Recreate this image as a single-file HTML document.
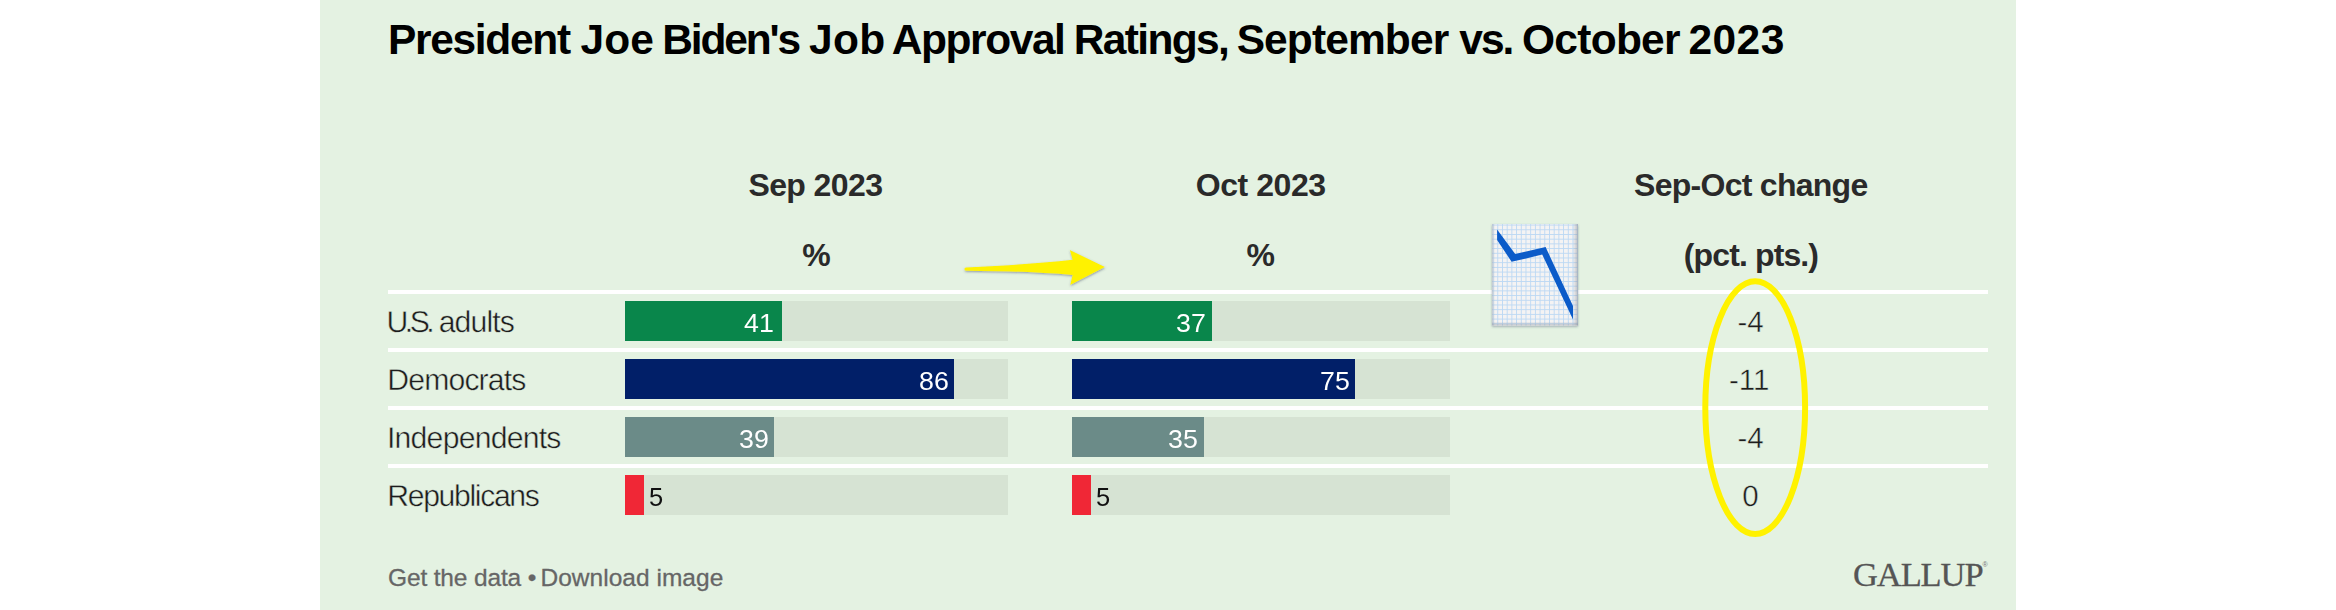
<!DOCTYPE html>
<html lang="en">
<head>
<meta charset="utf-8">
<title>President Joe Biden's Job Approval Ratings, September vs. October 2023</title>
<style>
html,body{margin:0;padding:0;background:#fff;}
body{width:2336px;height:610px;position:relative;overflow:hidden;font-family:"Liberation Sans",Arial,sans-serif;}
.card{position:absolute;left:320px;top:0;width:1696px;height:610px;background:#e4f2e2;}
.abs{position:absolute;white-space:nowrap;line-height:1;}
h1{position:absolute;margin:0;left:0;top:19px;width:2336px;height:43px;font-size:42.5px;line-height:1;font-weight:700;color:#000;white-space:nowrap;}
h1 span{position:absolute;top:0;white-space:nowrap;}
.hd{position:absolute;font-weight:700;font-size:32px;line-height:1;color:#2a2a2a;white-space:nowrap;text-align:center;transform:translateX(-50%);}
.rule{position:absolute;left:388px;width:1600px;height:4px;background:#fff;}
.lab{position:absolute;left:388px;text-rendering:geometricPrecision;font-size:30.2px;line-height:1;color:#1c1c1c;white-space:nowrap;-webkit-text-stroke:0.45px #e4f2e2;}
.track{position:absolute;height:40px;background:#d6e3d3;}
.bar{position:absolute;left:0;top:0;height:40px;}
.val{position:absolute;top:0;height:40px;line-height:44px;font-size:25px;color:#fff;white-space:nowrap;}
.val.in{text-align:right;transform:scaleX(1.07);transform-origin:100% 50%;}
.val.out{color:#111;transform:scaleX(1.02);transform-origin:0 50%;}
.chg{position:absolute;text-rendering:geometricPrecision;font-size:29.5px;line-height:1;color:#1c1c1c;-webkit-text-stroke:0.45px #e4f2e2;white-space:nowrap;transform:translateX(-50%);left:1750.5px;}
.foot{position:absolute;left:388px;top:566px;font-size:24.5px;letter-spacing:-0.15px;-webkit-text-stroke:0.3px #666;line-height:1;color:#666;white-space:nowrap;}
.logo{position:absolute;font-family:"Liberation Serif","Times New Roman",serif;font-size:34.5px;line-height:1;color:#555;white-space:nowrap;letter-spacing:-1.1px;-webkit-text-stroke:0.3px #555;}
.logo sup{font-size:7px;letter-spacing:0;position:relative;top:-18.5px;vertical-align:baseline;font-family:"Liberation Sans",sans-serif;color:#777;-webkit-text-stroke:0;}
svg.ov{position:absolute;left:0;top:0;width:2336px;height:610px;pointer-events:none;}
</style>
</head>
<body>
<div class="card"></div>

<h1><span style="left:387.95px;letter-spacing:-1.32px;">President</span> <span style="left:580.54px;letter-spacing:0.07px;">Joe</span> <span style="left:662.21px;letter-spacing:-2.16px;">Biden's</span> <span style="left:809.01px;letter-spacing:0.30px;">Job</span> <span style="left:891.80px;letter-spacing:-1.44px;">Approval</span> <span style="left:1073.79px;letter-spacing:-1.65px;">Ratings,</span> <span style="left:1236.64px;letter-spacing:-0.88px;">September</span> <span style="left:1459.28px;letter-spacing:-2.02px;">vs.</span> <span style="left:1522.06px;letter-spacing:-0.74px;">October</span> <span style="left:1688.38px;letter-spacing:0.48px;">2023</span></h1>

<div class="hd" style="left:815.4px;top:169.4px;letter-spacing:-0.6px;">Sep 2023</div>
<div class="hd" style="left:816.5px;top:239px;">%</div>
<div class="hd" style="left:1260.7px;top:169.4px;letter-spacing:-0.45px;">Oct 2023</div>
<div class="hd" style="left:1260.8px;top:239px;">%</div>
<div class="hd" style="left:1750.8px;top:169.4px;letter-spacing:-0.73px;">Sep-Oct change</div>
<div class="hd" style="left:1751px;top:239px;letter-spacing:-0.88px;">(pct. pts.)</div>

<div class="rule" style="top:290px;"></div>
<div class="rule" style="top:348px;"></div>
<div class="rule" style="top:406px;"></div>
<div class="rule" style="top:464px;"></div>

<div class="lab" style="top:307.5px;left:386.52px;letter-spacing:-0.90px;"><span style="letter-spacing:-3.5px;">U.S.</span> adults</div>
<div class="lab" style="top:365.5px;left:387.30px;letter-spacing:-0.86px;">Democrats</div>
<div class="lab" style="top:423.5px;left:387.00px;letter-spacing:-0.78px;">Independents</div>
<div class="lab" style="top:481.5px;left:387.30px;letter-spacing:-1.36px;">Republicans</div>

<!-- September bars -->
<div class="track" style="left:625px;top:301px;width:383px;"><div class="bar" style="width:157px;background:#09864b;"></div><div class="val in" style="right:234px;">41</div></div>
<div class="track" style="left:625px;top:359px;width:383px;"><div class="bar" style="width:329px;background:#011f68;"></div><div class="val in" style="right:59.3px;">86</div></div>
<div class="track" style="left:625px;top:417px;width:383px;"><div class="bar" style="width:149px;background:#6b8b88;"></div><div class="val in" style="right:239.5px;">39</div></div>
<div class="track" style="left:625px;top:475px;width:383px;"><div class="bar" style="width:19px;background:#f02736;"></div><div class="val out" style="left:24px;">5</div></div>

<!-- October bars -->
<div class="track" style="left:1072px;top:301px;width:378px;"><div class="bar" style="width:140px;background:#09864b;"></div><div class="val in" style="right:244.3px;">37</div></div>
<div class="track" style="left:1072px;top:359px;width:378px;"><div class="bar" style="width:283px;background:#011f68;"></div><div class="val in" style="right:100.2px;">75</div></div>
<div class="track" style="left:1072px;top:417px;width:378px;"><div class="bar" style="width:132px;background:#6b8b88;"></div><div class="val in" style="right:252.2px;">35</div></div>
<div class="track" style="left:1072px;top:475px;width:378px;"><div class="bar" style="width:19px;background:#f02736;"></div><div class="val out" style="left:24px;">5</div></div>

<!-- change column -->
<div class="chg" style="top:308px;">-4</div>
<div class="chg" style="top:366px;left:1749.2px;">-11</div>
<div class="chg" style="top:424px;">-4</div>
<div class="chg" style="top:482px;">0</div>

<div class="foot">Get the data <span style="margin-right:-2.3px;">•</span> <span style="letter-spacing:0.02px;">Download image</span></div>
<div class="logo" style="left:1853px;top:556.6px;">GALLUP<sup>®</sup></div>

<svg class="ov" viewBox="0 0 2336 610">
  <defs>
    <pattern id="grid" x="1492.6" y="224.6" width="4.7" height="4.7" patternUnits="userSpaceOnUse">
      <rect x="0" y="0" width="4.7" height="4.7" fill="#f4f3f3"/>
      <rect x="0" y="0" width="0.9" height="4.7" fill="#bcd8f3"/>
      <rect x="0" y="0" width="4.7" height="0.9" fill="#bcd8f3"/>
    </pattern>
    <linearGradient id="edgeR" x1="0" y1="0" x2="1" y2="0">
      <stop offset="0" stop-color="#8a8f98" stop-opacity="0"/>
      <stop offset="1" stop-color="#8a8f98" stop-opacity="0.55"/>
    </linearGradient>
    <linearGradient id="edgeL" x1="0" y1="0" x2="1" y2="0">
      <stop offset="0" stop-color="#9aa0a8" stop-opacity="0.45"/>
      <stop offset="1" stop-color="#9aa0a8" stop-opacity="0"/>
    </linearGradient>
    <linearGradient id="edgeB" x1="0" y1="0" x2="0" y2="1">
      <stop offset="0" stop-color="#8a8f98" stop-opacity="0"/>
      <stop offset="1" stop-color="#8a8f98" stop-opacity="0.45"/>
    </linearGradient>
    <filter id="pshadow" x="-10%" y="-10%" width="120%" height="125%">
      <feDropShadow dx="0" dy="1.2" stdDeviation="1.1" flood-color="#40506a" flood-opacity="0.45"/>
    </filter>
    <filter id="ashadow" x="-5%" y="-20%" width="110%" height="150%">
      <feDropShadow dx="0.3" dy="1.1" stdDeviation="0.9" flood-color="#3a4664" flood-opacity="0.5"/>
    </filter>
  </defs>

  <!-- arrow annotation -->
  <path filter="url(#ashadow)" fill="#fff200" d="M966 267.5 Q1030 264.5 1072.6 259.7 L1069.8 250.1 L1104.9 267 L1070.2 285.1 L1072.6 275 Q1030 271.2 966 270.7 A1.6 1.6 0 0 1 966 267.5 Z"/>

  <!-- chart-decreasing emoji -->
  <g>
    <rect x="1492" y="224" width="86" height="101.5" fill="#f4f3f3" filter="url(#pshadow)"/>
    <rect x="1492" y="224" width="86" height="101.5" fill="url(#grid)"/>
    <rect x="1492" y="224" width="3" height="101.5" fill="url(#edgeL)"/>
    <rect x="1573" y="224" width="5" height="101.5" fill="url(#edgeR)"/>
    <rect x="1492" y="321.5" width="86" height="4" fill="url(#edgeB)"/>
    <polygon fill="#0b5bc9" points="1497.1,229.6 1515.2,254.1 1545.6,247.1 1573,305.9 1573,319.6 1542.2,254.6 1511.6,261.8 1497.1,239.9"/>
  </g>

  <!-- ellipse annotation -->
  <ellipse cx="1755.2" cy="407.6" rx="49.9" ry="126.3" fill="none" stroke="#fff200" stroke-width="6"/>
</svg>
</body>
</html>
